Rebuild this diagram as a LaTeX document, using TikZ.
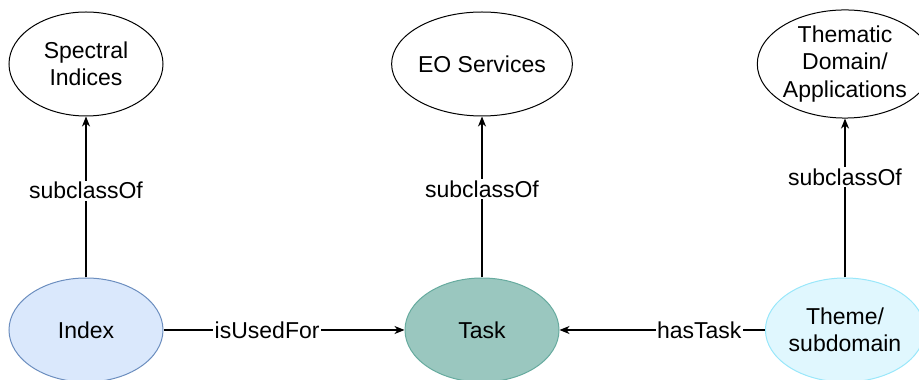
\documentclass[tikz,border=0pt]{standalone}
\usepackage{fontspec}
\setmainfont{Liberation Sans}
\usetikzlibrary{shapes.geometric,arrows.meta}

\definecolor{idxfill}{HTML}{DAE8FC}
\definecolor{idxline}{HTML}{6C8EBF}
\definecolor{taskfill}{HTML}{9AC7BF}
\definecolor{taskline}{HTML}{67AB9F}
\definecolor{themefill}{HTML}{E0F7FE}
\definecolor{themeline}{HTML}{99E7FA}

\tikzset{
  concept/.style={ellipse, draw=black, line width=1pt, minimum width=154pt,
    minimum height=104pt, inner sep=0pt, align=center,
    font=\fontsize{23}{27.5}\selectfont},
  rel/.style={-{Stealth[length=10pt,width=8pt,inset=3pt]}, line width=1.1pt},
  rellabel/.style={fill=white, inner sep=1.5pt, font=\fontsize{23}{27}\selectfont}
}

\begin{document}
\begin{tikzpicture}[x=1pt,y=1pt]
\useasboundingbox (0,0) rectangle (919,380);

% superclasses
\node[concept] (spec) at (86,316) {Spectral\\Indices};
\node[concept] (eo) at (482,316) {EO Services};
\node[concept, minimum width=152pt] (thematic) at (845,316) {Thematic\\Domain/\\Applications};

% instances
\node[concept, fill=idxfill, draw=idxline] (index) at (86,50) {Index};
\node[concept, fill=taskfill, draw=taskline] (task) at (482,50) {Task};
\node[concept, minimum width=150pt, fill=themefill, draw=themeline] (theme) at (845,50) {Theme/\\subdomain};

% subclass relations
\draw[rel] (index) -- node[rellabel, pos=0.54] {subclassOf} (spec);
\draw[rel] (task) -- node[rellabel, pos=0.55] {subclassOf} (eo);
\draw[rel] (theme) -- node[rellabel, pos=0.63] {subclassOf} (thematic);

% object properties
\draw[rel] (index) -- node[rellabel, pos=0.43] {isUsedFor} (task);
\draw[rel] (theme) -- node[rellabel, pos=0.32] {hasTask} (task);
\end{tikzpicture}
\end{document}
